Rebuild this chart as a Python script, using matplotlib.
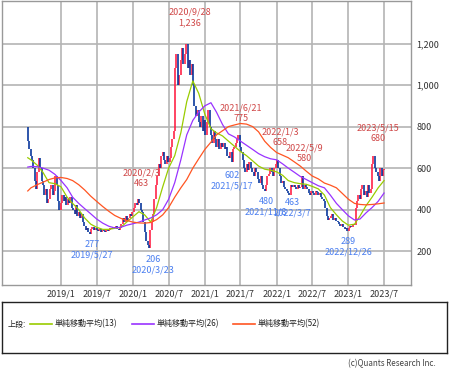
import numpy as np
import pandas as pd
import matplotlib
matplotlib.use("Agg")
import matplotlib.pyplot as plt
from matplotlib.lines import Line2D

plt.rcParams['font.family'] = ['Noto Sans CJK JP', 'DejaVu Sans']

# 週足終値 (2018/7/16 から毎週月曜)
open0 = 800
close = [
    730, 690, 660,                          # 2018/7
    640, 600, 540, 500,                     # 2018/8
    580, 650, 600, 540,                     # 2018/9
    520, 470, 500, 430, 450,                # 2018/10
    500, 520, 470, 490,                     # 2018/11
    560, 520, 440, 400, 430,                # 2018/12
    470, 440, 460, 420,                     # 2019/1
    450, 430, 460, 410,                     # 2019/2
    400, 380, 420, 370,                     # 2019/3
    390, 360, 380, 340, 320,                # 2019/4
    300, 310, 290, 285,                     # 2019/5
    305, 315, 300, 310,                     # 2019/6
    300, 295, 305, 290, 300,                # 2019/7
    295, 290, 300, 295,                     # 2019/8
    300, 310, 305, 315, 310,                # 2019/9
    320, 305, 300, 310,                     # 2019/10
    330, 360, 340, 370,                     # 2019/11
    350, 360, 380, 370, 390,                # 2019/12
    410, 430, 420, 450,                     # 2020/1
    430, 400, 390, 340,                     # 2020/2
    290, 250, 230, 215, 300,                # 2020/3
    340, 380, 450, 520,                     # 2020/4
    560, 620, 600, 660,                     # 2020/5
    680, 640, 620, 660, 630,                # 2020/6
    650, 700, 740, 780,                     # 2020/7
    1080, 1150, 1000, 1050, 1120,           # 2020/8
    1180, 1100, 1150, 1200,                 # 2020/9
    1080, 1120, 1050, 1100,                 # 2020/10
    1000, 900, 850, 880, 820,               # 2020/11
    800, 850, 780, 830,                     # 2020/12
    760, 820, 880, 800,                     # 2021/1
    760, 720, 780, 740,                     # 2021/2
    700, 740, 690, 720, 700,                # 2021/3
    720, 690, 700, 660,                     # 2021/4
    650, 680, 630, 690, 700,                # 2021/5
    720, 740, 760, 700,                     # 2021/6
    680, 640, 600, 580,                     # 2021/7
    620, 590, 630, 600, 580,                # 2021/8
    560, 600, 580, 550,                     # 2021/9
    530, 560, 520, 500,                     # 2021/10
    490, 520, 560, 570, 600,                # 2021/11
    580, 560, 600, 620,                     # 2021/12
    640, 600, 560, 530, 540,                # 2022/1
    510, 500, 490, 480,                     # 2022/2
    470, 520, 510, 520,                     # 2022/3
    510, 500, 520, 505,                     # 2022/4
    510, 560, 500, 520, 510,                # 2022/5
    500, 480, 470, 490,                     # 2022/6
    480, 470, 490, 485,                     # 2022/7
    470, 480, 460, 450, 440,                # 2022/8
    410, 370, 350, 360,                     # 2022/9
    370, 380, 350, 360, 345,                # 2022/10
    340, 330, 320, 330,                     # 2022/11
    315, 305, 310, 295,                     # 2022/12
    310, 320, 315, 330, 325,                # 2023/1
    410, 440, 470, 450,                     # 2023/2
    500, 520, 470, 490,                     # 2023/3
    460, 520, 480, 500,                     # 2023/4
    620, 660, 600, 580, 560,                # 2023/5
    540, 600, 560, 590,                     # 2023/6
    595,                                    # 2023/7
]

# 移動平均 (月初の値, 2018/7 - 2023/7)
ma13 = [650, 640, 615, 580, 530, 525,
        510, 460, 430, 400, 360, 330, 315, 305, 305, 310, 315, 340,
        365, 390, 375, 340, 410, 510, 600, 660, 770, 920, 1020, 960,
        860, 790, 770, 755, 730, 705, 680, 660, 635, 610, 595, 590,
        582, 565, 540, 530, 525, 522, 512, 500, 470, 410, 375, 345,
        325, 330, 370, 420, 460, 505, 540]
ma26 = [605, 608, 607, 600, 590, 570,
        540, 505, 460, 430, 405, 380, 355, 335, 320, 312, 315, 325,
        332, 340, 350, 360, 375, 400, 450, 530, 640, 760, 830, 870,
        900, 915, 870, 810, 765, 750, 730, 710, 690, 670, 655, 645,
        640, 620, 600, 580, 560, 545, 530, 515, 505, 470, 430, 400,
        370, 350, 355, 385, 410, 440, 480]
ma52 = [490, 505, 520, 532, 545, 553,
        555, 550, 540, 520, 495, 465, 440, 415, 392, 372, 358, 348,
        340, 336, 335, 338, 352, 375, 410, 460, 505, 545, 600, 645,
        690, 725, 760, 780, 800, 808, 815, 812, 800, 775, 730, 700,
        675, 662, 650, 630, 610, 585, 562, 548, 528, 518, 505, 478,
        450, 430, 425, 423, 425, 428, 432]

ma_labels = ['単純移動平均(13)', '単純移動平均(26)', '単純移動平均(52)']
ma_colors = ['#99cc00', '#9933ff', '#ff5522']
yticks = [200, 400, 600, 800, 1000, 1200]
xtick_labels = ['2019/1', '2019/7', '2020/1', '2020/7', '2021/1',
                '2021/7', '2022/1', '2022/7', '2023/1', '2023/7']

# 高値・安値の注記
notes_hi = ['2020/9/28\n1,236', '2020/2/3\n463', '2021/6/21\n775',
            '2022/1/3\n658', '2022/5/9\n580', '2023/5/15\n680']
notes_lo = ['277\n2019/5/27', '206\n2020/3/23', '602\n2021/5/17',
            '480\n2021/11/8', '463\n2022/3/7', '289\n2022/12/26']

dates = pd.date_range('2018-07-16', periods=len(close), freq='W-MON')
c = np.array(close, dtype=float)
o = np.concatenate([[open0], c[:-1]])
ma_dates = [pd.Timestamp('2018-07-16')] + list(pd.date_range('2018-08-01', periods=len(ma13) - 1, freq='MS'))

W, H = 450, 369
fig = plt.figure(figsize=(W / 100, H / 100), dpi=100)
ax = fig.add_axes([2 / W, 1 - 285 / H, 409 / W, 284 / H])

ax.set_xlim(pd.Timestamp('2018-03-07'), pd.Timestamp('2023-11-15'))
ax.set_ylim(37, 1405)

tick_dates = [pd.Timestamp(s.replace('/', '-') + '-01') for s in xtick_labels]
ax.set_xticks(tick_dates)
ax.set_xticklabels(xtick_labels)
ax.set_yticks(yticks)
ax.set_yticklabels([f'{v:,}' for v in yticks])
ax.yaxis.tick_right()
ax.tick_params(axis='both', length=0, labelsize=6.5, colors='#333333')
ax.tick_params(axis='y', pad=4)
ax.tick_params(axis='x', pad=3)
ax.grid(True, color='#b4b4b4', lw=1.2)
ax.set_axisbelow(True)
for s in ax.spines.values():
    s.set_color('#999999')
    s.set_linewidth(1)

# ローソク足
up = c >= o
ax.vlines(dates[up], o[up], c[up], colors='#ff1a40', lw=1.15, zorder=3)
ax.vlines(dates[~up], c[~up], o[~up], colors='#002f99', lw=1.15, zorder=3)

# 移動平均線
for ma, col in zip([ma13, ma26, ma52], ma_colors):
    ax.plot(ma_dates, ma, color=col, lw=0.9, zorder=4)

# 注記 (ピクセル位置)
hi_pos = [(190, 17.5), (141, 178), (241, 113), (280, 137.5), (304, 153.5), (378, 133.5)]
lo_pos = [(92, 250), (153, 265), (232, 181), (266, 207), (292, 208), (348, 247)]
for txt, (px, py) in zip(notes_hi, hi_pos):
    fig.text(px / W, 1 - py / H, txt, color='#d04848', fontsize=6.5,
             ha='center', va='center', linespacing=1.25)
for txt, (px, py) in zip(notes_lo, lo_pos):
    fig.text(px / W, 1 - py / H, txt, color='#4a7ef0', fontsize=6.5,
             ha='center', va='center', linespacing=1.25)

# 凡例ボックス
lg = fig.add_axes([2 / W, 1 - 353 / H, 445 / W, 51 / H])
lg.set_xlim(0, 445)
lg.set_ylim(51, 0)
lg.set_xticks([])
lg.set_yticks([])
for s in lg.spines.values():
    s.set_color('#222222')
    s.set_linewidth(1)
lg.text(6, 22, '上段:', fontsize=5.8, va='center', ha='left', color='#222222')
for i, (lab, col) in enumerate(zip(ma_labels, ma_colors)):
    x0 = 28 + i * 101.5
    lg.add_line(Line2D([x0, x0 + 22], [22, 22], color=col, lw=1.2))
    lg.text(x0 + 25, 22, lab, fontsize=5.8, va='center', ha='left', color='#222222')

fig.text(436 / W, 1 - 364 / H, '(c)Quants Research Inc.', fontsize=5.8,
         ha='right', va='center', color='#444444')

fig.savefig('out.png', dpi=100)
